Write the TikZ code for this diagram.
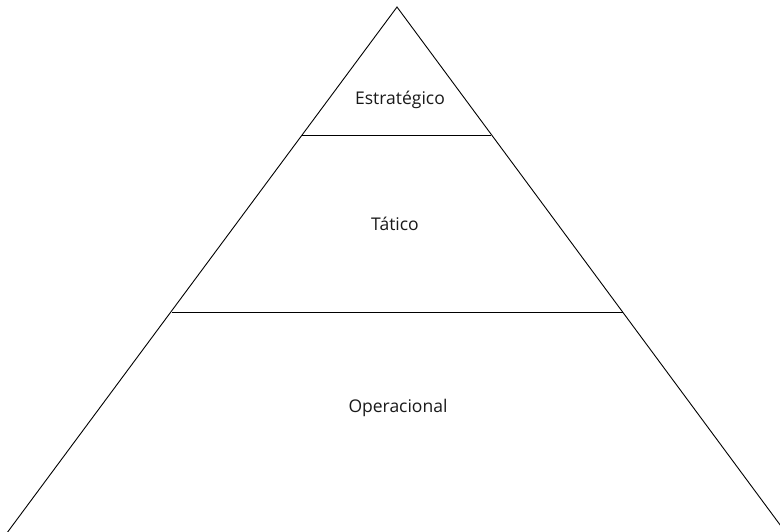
\documentclass[tikz,border=0pt]{standalone}
\usepackage{fontspec}
\setmainfont{Open Sans}
\begin{document}
\begin{tikzpicture}[x=1pt,y=-1pt,
  edge/.style={draw=black,line width=0.9pt},
  level/.style={font=\fontsize{17.5}{20}\selectfont,text=black!90}]
\useasboundingbox (0,0) rectangle (780,532);
\clip (0,0) rectangle (780,532);
% outline of the pyramid
\coordinate (apex) at (397,7);
\coordinate (bl) at (-0.5,543);
\coordinate (br) at (793.5,543);
\draw[edge] (bl) -- (apex) -- (br);
% dividing lines between levels
\coordinate (a1) at (302,135);
\coordinate (a2) at (491,135);
\coordinate (b1) at (172,312);
\coordinate (b2) at (623,312);
\draw[edge] (a1) -- (a2);
\draw[edge] (b1) -- (b2);
% level labels
\node[level] (est) at (400,100) {Estratégico};
\node[level] (tat) at (395,224) {Tático};
\node[level] (ope) at (398,408) {Operacional};
\end{tikzpicture}
\end{document}
